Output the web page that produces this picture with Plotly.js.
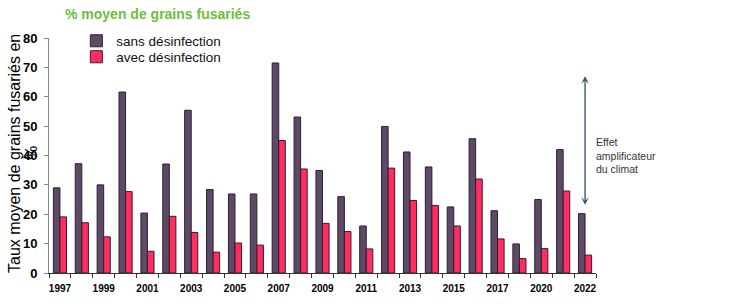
<!DOCTYPE html>
<html>
<head>
<meta charset="utf-8">
<script src="https://cdn.plot.ly/plotly-3.0.1.min.js"></script>
<style>
  html, body { margin: 0; padding: 0; background: #ffffff; }
  #chart { width: 731px; height: 305px; }
</style>
</head>
<body>
<div id="chart"></div>
<script>
// ---- Data ----
const years = ['1997','1998','1999','2000','2001','2002','2003','2004','2005','2006',
               '2007','2008','2009','2010','2011','2012','2013','2014','2015','2016',
               '2017','2018','2020','2021','2022'];
const sansDesinfection = [29.0, 37.2, 30.0, 61.6, 20.4, 37.1, 55.4, 28.4, 26.9, 26.9,
                          71.5, 53.1, 34.9, 26.0, 16.0, 49.9, 41.2, 36.1, 22.5, 45.7,
                          21.2, 9.9, 25.0, 42.0, 20.2];
const avecDesinfection = [19.1, 17.1, 12.3, 27.7, 7.4, 19.3, 13.8, 7.1, 10.2, 9.5,
                          45.1, 35.4, 16.9, 14.1, 8.2, 35.7, 24.7, 23.0, 16.0, 32.0,
                          11.6, 4.9, 8.3, 27.9, 6.1];
const tickLabels = ['1997','1999','2001','2003','2005','2007','2009','2011','2013',
                    '2015','2017','2020','2022'];
const seriesNames = ['sans désinfection', 'avec désinfection'];

const FONT = 'Liberation Sans, Arial, Helvetica, sans-serif';
const xIdx = years.map((_, i) => i);
const tickIdx = tickLabels.map(l => years.indexOf(l));

const traces = [
  {
    type: 'bar', name: seriesNames[0], x: xIdx, y: sansDesinfection,
    marker: { color: '#5e4a66', line: { color: '#2a2030', width: 1 } },
    legend: 'legend'
  },
  {
    type: 'bar', name: seriesNames[1], x: xIdx, y: avecDesinfection,
    marker: { color: '#ff2d62', line: { color: '#3a1a24', width: 1 } },
    legend: 'legend2'
  }
];

const lastIdx = years.length - 1;

const layout = {
  width: 731, height: 305,
  margin: { l: 49, r: 135, t: 38, b: 32, pad: 0 },
  paper_bgcolor: '#ffffff', plot_bgcolor: '#ffffff',
  barmode: 'group', bargap: 0.4, bargroupgap: 0,
  font: { family: FONT, color: '#000000' },
  title: {
    text: '% moyen de grains fusariés',
    font: { family: FONT, size: 14, color: '#6cbf3a', weight: 'bold' },
    xref: 'container', x: 65 / 731, xanchor: 'left',
    yref: 'container', y: 1 - 14 / 305, yanchor: 'middle'
  },
  xaxis: {
    range: [-0.5, lastIdx + 0.5],
    tickmode: 'array', tickvals: tickIdx, ticktext: tickLabels,
    ticks: '', ticklabelstandoff: 6,
    tickfont: { family: FONT, size: 10, color: '#000000', weight: 'bold' },
    showline: true, linecolor: '#333333', linewidth: 1,
    showgrid: false, zeroline: false, fixedrange: true,
    minor: { tick0: -0.5, dtick: 1, ticks: 'outside', ticklen: 4, tickcolor: '#333333', tickwidth: 1, showgrid: false }
  },
  yaxis: {
    range: [0, 80], tickmode: 'linear', tick0: 0, dtick: 10,
    ticks: 'outside', ticklen: 4, tickcolor: '#888888', tickwidth: 1,
    ticklabelstandoff: 4,
    tickfont: { family: FONT, size: 13, color: '#000000', weight: 'bold' },
    showline: true, linecolor: '#888888', linewidth: 1,
    showgrid: false, zeroline: false, fixedrange: true
  },
  showlegend: true,
  legend: {
    x: 0.05, xanchor: 'left', y: (273 - 41) / 235, yanchor: 'middle',
    bgcolor: 'rgba(0,0,0,0)', borderwidth: 0,
    font: { family: FONT, size: 13.5, color: '#111111' }, itemwidth: 30
  },
  legend2: {
    x: 0.05, xanchor: 'left', y: (273 - 57) / 235, yanchor: 'middle',
    bgcolor: 'rgba(0,0,0,0)', borderwidth: 0,
    font: { family: FONT, size: 13.5, color: '#111111' }, itemwidth: 30
  },
  annotations: [
    // y-axis title (two lines, as in the reference)
    {
      xref: 'paper', yref: 'paper', x: -35 / 547, y: (273 - 154) / 235,
      xanchor: 'center', yanchor: 'middle', showarrow: false, textangle: -90,
      text: 'Taux moyen de grains fusariés en',
      font: { family: FONT, size: 16, color: '#000000' }
    },
    {
      xref: 'paper', yref: 'paper', x: -18 / 547, y: (273 - 153) / 235,
      xanchor: 'center', yanchor: 'middle', showarrow: false, textangle: -90,
      text: '%',
      font: { family: FONT, size: 16, color: '#000000' }
    },
    // double-headed arrow
    {
      xref: 'x', yref: 'y', axref: 'x', ayref: 'y',
      x: lastIdx, y: 23.2, ax: lastIdx, ay: 67.5,
      text: '', showarrow: true, arrowside: 'end+start',
      arrowhead: 3, startarrowhead: 3, arrowsize: 1, startarrowsize: 1,
      arrowwidth: 1.3, arrowcolor: '#2c5068'
    },
    {
      xref: 'x', yref: 'y', x: lastIdx + 0.42, y: 40.1,
      xanchor: 'left', yanchor: 'middle', align: 'left', showarrow: false,
      text: 'Effet<br>amplificateur<br>du climat',
      font: { family: FONT, size: 10.5, color: '#333333' }
    }
  ]
};

Plotly.newPlot('chart', traces, layout, { staticPlot: true, displayModeBar: false });
</script>
</body>
</html>
